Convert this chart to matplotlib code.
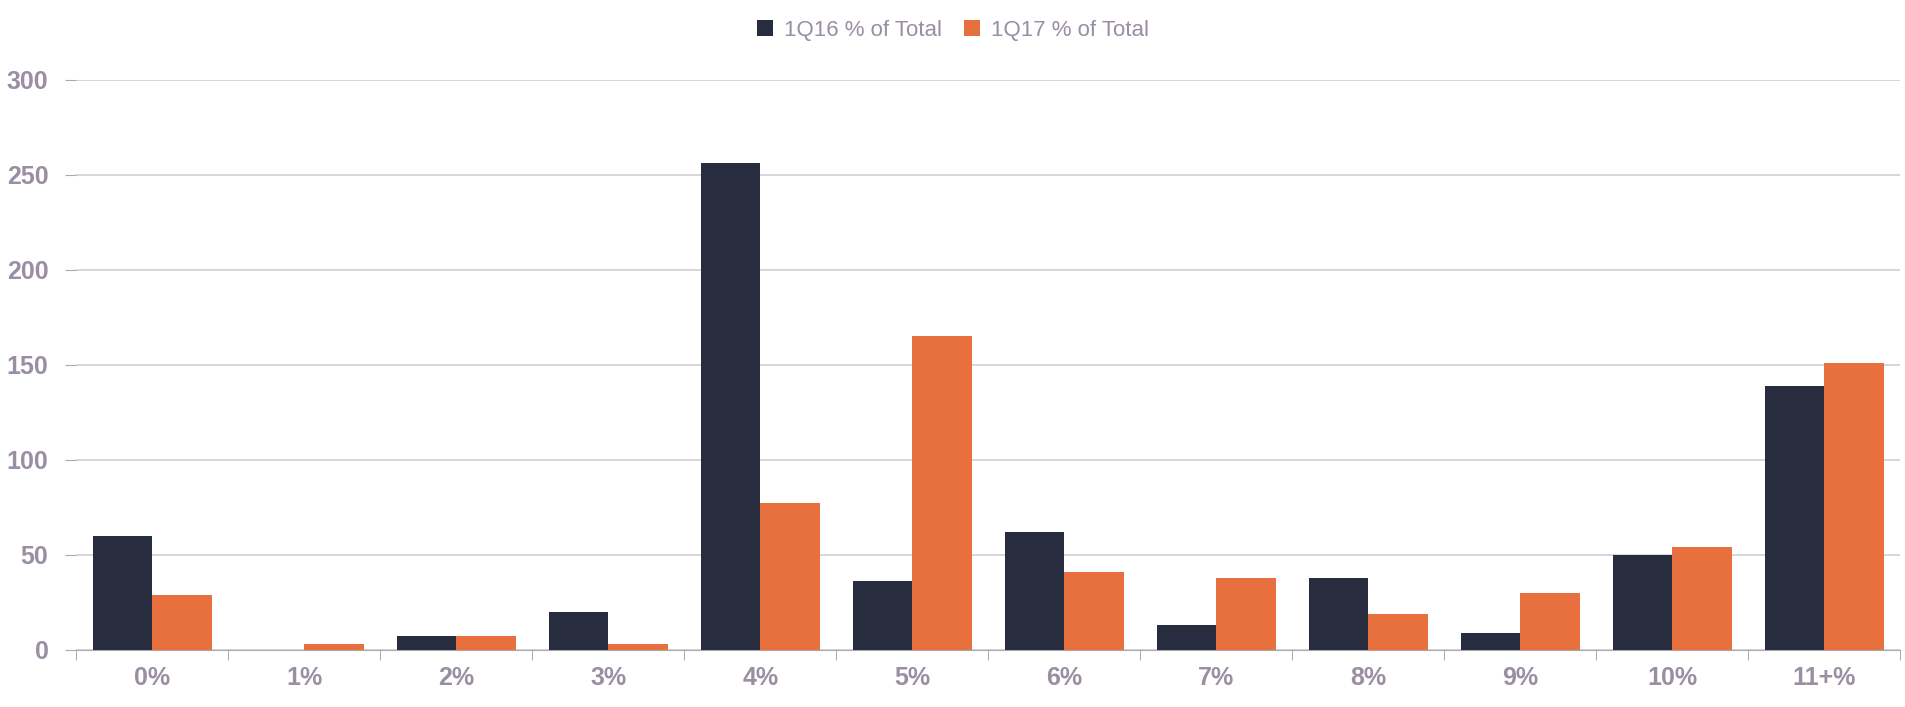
import numpy as np
import matplotlib.pyplot as plt

# bucket labels and the two series
buckets = ["0%", "1%", "2%", "3%", "4%", "5%", "6%", "7%", "8%", "9%", "10%", "11+%"]
q1_2016 = [60, 0, 7, 20, 256, 36, 62, 13, 38, 9, 50, 139]
q1_2017 = [29, 3, 7, 3, 77, 165, 41, 38, 19, 30, 54, 151]

navy = "#272c3e"
orange = "#e8703f"
label_col = "#9a8ea3"

plt.rcParams['font.family'] = ['Liberation Sans Narrow', 'Liberation Sans', 'DejaVu Sans']

fig = plt.figure(figsize=(19.06, 7.07), dpi=100)
ax = fig.add_axes([0.04, 0.081, 0.957, 0.806])

x = np.arange(len(buckets))
w = 0.39
ax.bar(x - w / 2, q1_2016, width=w, color=navy, label="1Q16 % of Total", zorder=3)
ax.bar(x + w / 2, q1_2017, width=w, color=orange, label="1Q17 % of Total", zorder=3)

ax.set_xlim(-0.5, len(buckets) - 0.5)
ax.set_ylim(0, 300)
ax.set_yticks(range(0, 301, 50))
ax.yaxis.grid(True, color="#cfcfd4", linewidth=1.2, zorder=0)
ax.set_axisbelow(True)

ax.set_xticks(x)
ax.set_xticklabels(buckets)
ax.set_xticks(np.arange(-0.5, len(buckets)), minor=True)
ax.tick_params(axis='x', which='major', length=0, pad=12)
ax.tick_params(axis='x', which='minor', length=7, color="#999999")
ax.tick_params(axis='y', length=8, color="#aaaaaa", pad=12)
for lbl in ax.get_xticklabels() + ax.get_yticklabels():
    lbl.set_fontsize(18)
    lbl.set_fontweight('bold')
    lbl.set_color(label_col)

for s in ["top", "right", "left"]:
    ax.spines[s].set_visible(False)
ax.spines["bottom"].set_color("#aaaaaa")

leg = fig.legend(loc="upper center", bbox_to_anchor=(0.5, 1.0), ncol=2, frameon=False,
                 fontsize=16, handlelength=0.7, handleheight=0.7, handletextpad=0.5,
                 columnspacing=1.0)
for t in leg.get_texts():
    t.set_color(label_col)

fig.savefig("out.png", dpi=100, facecolor="white")
